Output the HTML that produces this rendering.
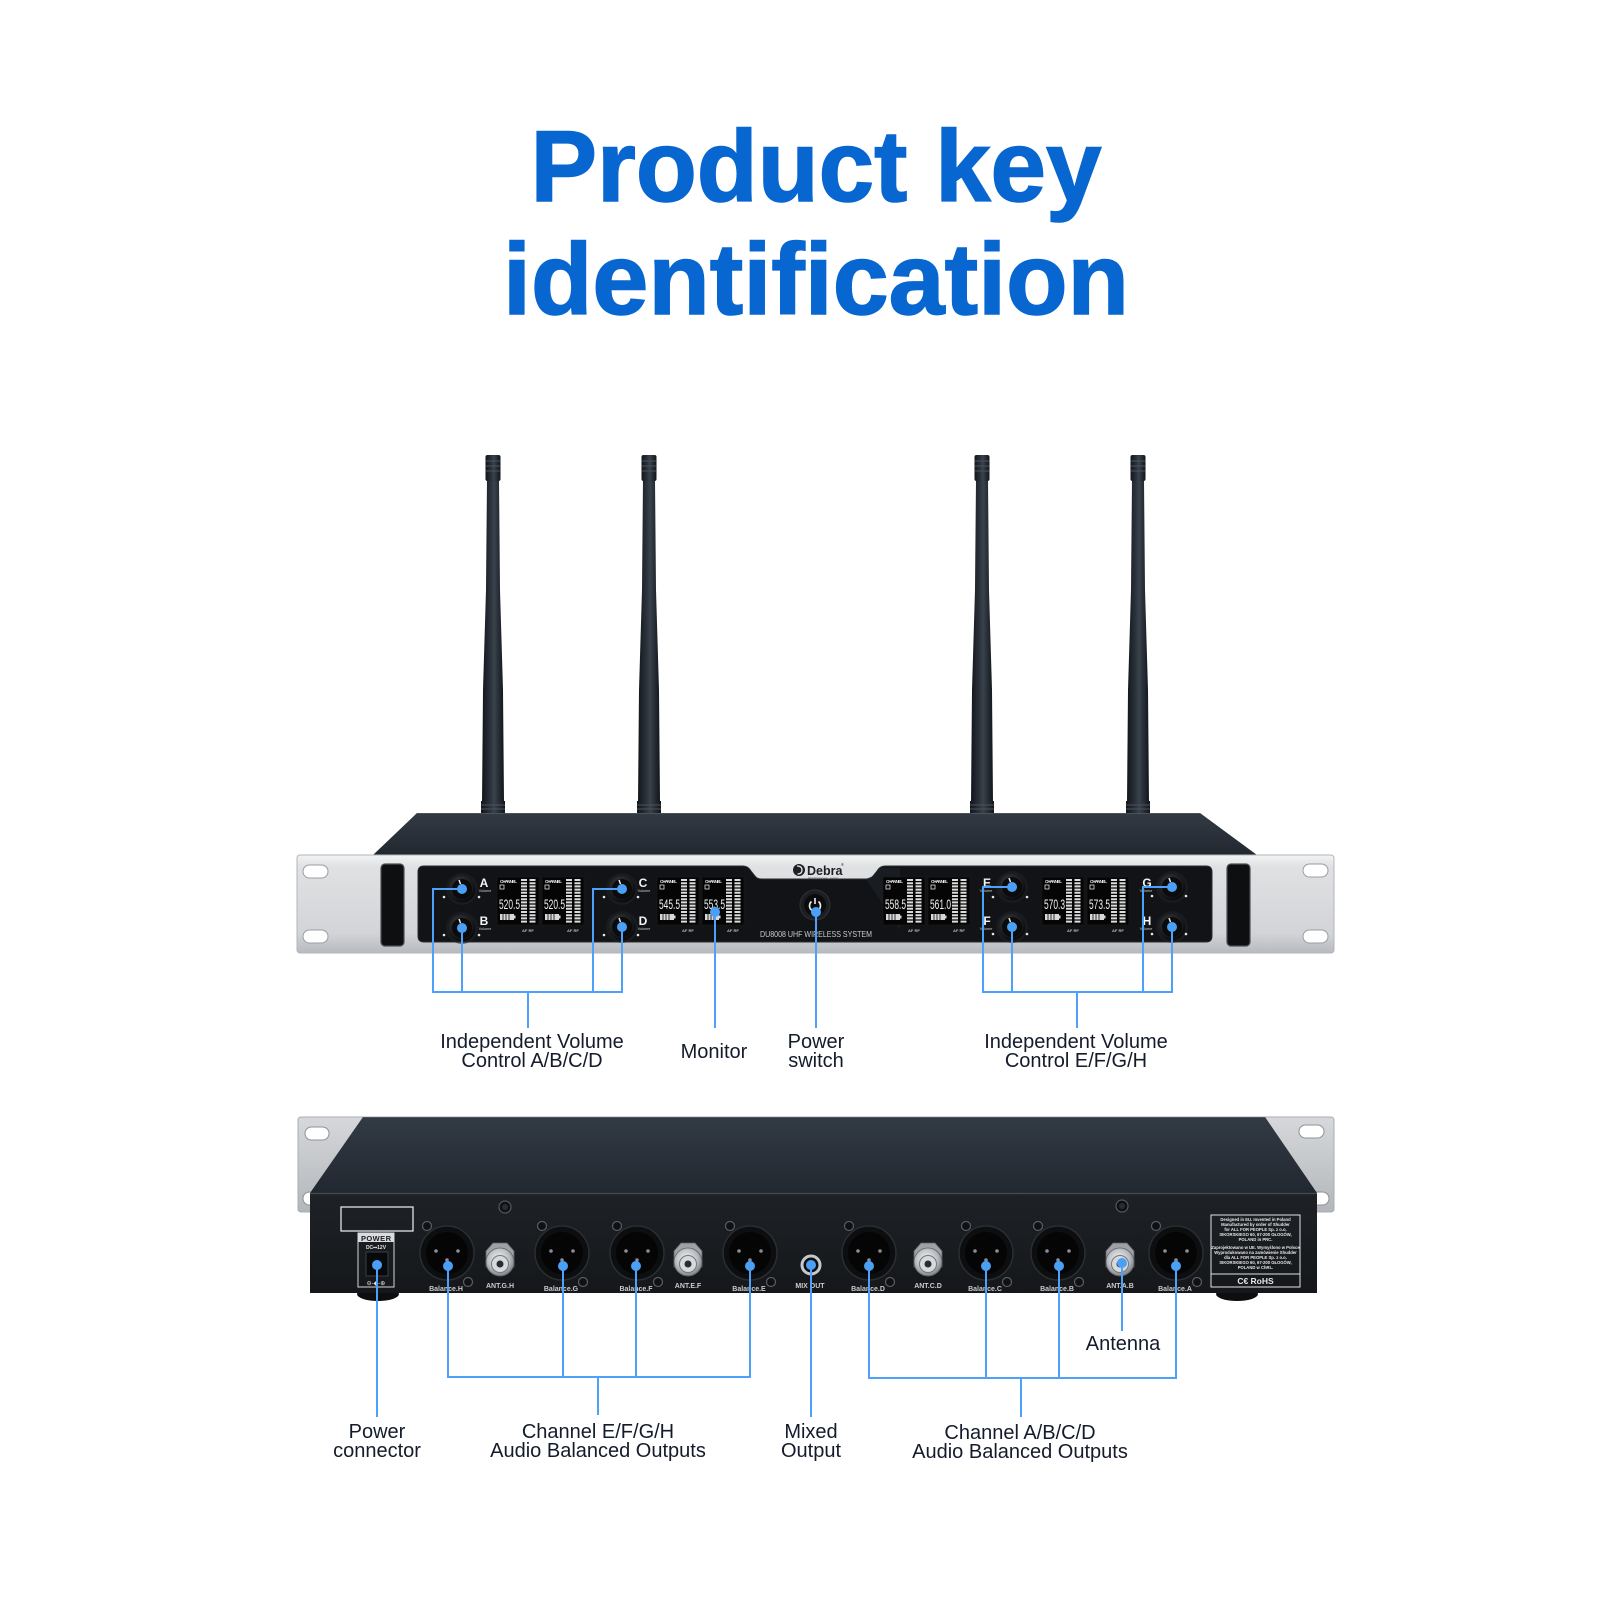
<!DOCTYPE html>
<html><head><meta charset="utf-8"><style>
html,body{margin:0;padding:0;background:#fff;}
svg{display:block;}
text{font-family:"Liberation Sans",Arial,sans-serif;}
</style></head><body>
<svg width="1600" height="1606" viewBox="0 0 1600 1606" xmlns="http://www.w3.org/2000/svg">
<defs>
  <linearGradient id="ant" x1="0" y1="0" x2="1" y2="0">
    <stop offset="0" stop-color="#12161b"/><stop offset="0.4" stop-color="#2c333c"/><stop offset="0.55" stop-color="#3a424c"/><stop offset="1" stop-color="#11151a"/>
  </linearGradient>
  <linearGradient id="topc" x1="0" y1="0" x2="0" y2="1">
    <stop offset="0" stop-color="#323a44"/><stop offset="1" stop-color="#222830"/>
  </linearGradient>
  <linearGradient id="face" x1="0" y1="0" x2="0" y2="1">
    <stop offset="0" stop-color="#f2f3f4"/><stop offset="0.12" stop-color="#dfe1e3"/><stop offset="0.8" stop-color="#d2d4d7"/><stop offset="1" stop-color="#b7babe"/>
  </linearGradient>
  <linearGradient id="ear" x1="0" y1="0" x2="0" y2="1">
    <stop offset="0" stop-color="#d6d8db"/><stop offset="1" stop-color="#b3b6ba"/>
  </linearGradient>
  <linearGradient id="rear" x1="0" y1="0" x2="0" y2="1">
    <stop offset="0" stop-color="#1e2226"/><stop offset="1" stop-color="#15171a"/>
  </linearGradient>
  <radialGradient id="knobg" cx="0.4" cy="0.35" r="0.7">
    <stop offset="0" stop-color="#3a3c40"/><stop offset="0.7" stop-color="#18191b"/><stop offset="1" stop-color="#060607"/>
  </radialGradient>
  <radialGradient id="bncg" cx="0.45" cy="0.4" r="0.65">
    <stop offset="0" stop-color="#f4f4f4"/><stop offset="0.6" stop-color="#b9bcc0"/><stop offset="1" stop-color="#6f7378"/>
  </radialGradient>
  <g id="knob">
    <circle r="16" fill="#202226" opacity="0.6"/>
    <circle r="13.5" fill="url(#knobg)"/>
    <circle r="10" fill="#0b0b0c"/>
    <line x1="-3" y1="-9" x2="-1.5" y2="-5" stroke="#eee" stroke-width="1.5"/>
  </g>
  <g id="lcd">
    <rect x="0" y="0" width="42" height="48" fill="#050505" stroke="#1c1c1c" stroke-width="0.6"/>
    <line x1="27" y1="2" x2="27" y2="46" stroke="#dcdcdc" stroke-width="6" stroke-dasharray="2 1.2"/>
    <line x1="35.5" y1="2" x2="35.5" y2="46" stroke="#dcdcdc" stroke-width="6" stroke-dasharray="2 1.2"/>
    <rect x="3" y="8" width="4" height="4" fill="none" stroke="#ddd" stroke-width="0.8"/>
    <rect x="3" y="37" width="14" height="6" fill="#d8d8d8"/>
    <rect x="17" y="38.5" width="1.5" height="3" fill="#d8d8d8"/>
    <line x1="6" y1="37" x2="6" y2="43" stroke="#050505" stroke-width="0.8"/>
    <line x1="9" y1="37" x2="9" y2="43" stroke="#050505" stroke-width="0.8"/>
    <line x1="12" y1="37" x2="12" y2="43" stroke="#050505" stroke-width="0.8"/>
  </g>
  <g id="xlr">
    <circle r="27" fill="#0d0e10" stroke="#2a2d31" stroke-width="1.5"/>
    <circle r="21" fill="#050506"/>
    <circle cx="-11" cy="-2" r="1.8" fill="#8a8d92"/>
    <circle cx="11" cy="-2" r="1.8" fill="#8a8d92"/>
    <circle cx="0" cy="7" r="1.8" fill="#8a8d92"/>
    <circle cx="-20" cy="-27" r="4.5" fill="#101113" stroke="#5a5d62" stroke-width="1.2"/>
    <circle cx="21" cy="29" r="4.5" fill="#101113" stroke="#5a5d62" stroke-width="1.2"/>
  </g>
  <g id="bnc">
    <polygon points="-14,-10 -7,-18 7,-18 14,-10 14,6 -14,6" fill="#9ea2a7" stroke="#5e6267" stroke-width="0.8"/>
    <circle cx="0" cy="1" r="14" fill="url(#bncg)" stroke="#5e6267" stroke-width="0.8"/>
    <circle cx="0" cy="3" r="8.5" fill="#d7d9dc" stroke="#777" stroke-width="1"/>
    <circle cx="0" cy="3" r="3.5" fill="#2a2c30"/>
  </g>
  <g id="screw">
    <circle r="6" fill="#101113" stroke="#55585d" stroke-width="1.2"/>
    <circle r="3" fill="#2a2c30"/>
  </g>
</defs>

<rect width="1600" height="1606" fill="#ffffff"/>

<!-- TITLE -->
<text x="816" y="201" text-anchor="middle" font-size="101" font-weight="bold" fill="#0866d0" stroke="#0866d0" stroke-width="1.5" textLength="571" lengthAdjust="spacingAndGlyphs">Product key</text>
<text x="816" y="314" text-anchor="middle" font-size="101" font-weight="bold" fill="#0866d0" stroke="#0866d0" stroke-width="1.5" textLength="626" lengthAdjust="spacingAndGlyphs">identification</text>

<!-- ANTENNAS -->
<g>
  <g transform="translate(493,0)">
    <polygon points="-6,480 6,480 7,590 10,690 11,803 -11,803 -10,690 -7,590" fill="url(#ant)"/>
    <rect x="-7.5" y="455" width="15" height="26" rx="2" fill="url(#ant)"/>
    <line x1="-7" y1="461" x2="7" y2="461" stroke="#4a525c"/><line x1="-7" y1="466" x2="7" y2="466" stroke="#4a525c"/><line x1="-7" y1="471" x2="7" y2="471" stroke="#4a525c"/>
    <rect x="-12" y="801" width="24" height="12" fill="url(#ant)"/>
    <line x1="-12" y1="805" x2="12" y2="805" stroke="#4a525c"/><line x1="-12" y1="809" x2="12" y2="809" stroke="#4a525c"/>
  </g>
  <g transform="translate(649,0)">
    <polygon points="-6,480 6,480 7,590 10,690 11,803 -11,803 -10,690 -7,590" fill="url(#ant)"/>
    <rect x="-7.5" y="455" width="15" height="26" rx="2" fill="url(#ant)"/>
    <line x1="-7" y1="461" x2="7" y2="461" stroke="#4a525c"/><line x1="-7" y1="466" x2="7" y2="466" stroke="#4a525c"/><line x1="-7" y1="471" x2="7" y2="471" stroke="#4a525c"/>
    <rect x="-12" y="801" width="24" height="12" fill="url(#ant)"/>
    <line x1="-12" y1="805" x2="12" y2="805" stroke="#4a525c"/><line x1="-12" y1="809" x2="12" y2="809" stroke="#4a525c"/>
  </g>
  <g transform="translate(982,0)">
    <polygon points="-6,480 6,480 7,590 10,690 11,803 -11,803 -10,690 -7,590" fill="url(#ant)"/>
    <rect x="-7.5" y="455" width="15" height="26" rx="2" fill="url(#ant)"/>
    <line x1="-7" y1="461" x2="7" y2="461" stroke="#4a525c"/><line x1="-7" y1="466" x2="7" y2="466" stroke="#4a525c"/><line x1="-7" y1="471" x2="7" y2="471" stroke="#4a525c"/>
    <rect x="-12" y="801" width="24" height="12" fill="url(#ant)"/>
    <line x1="-12" y1="805" x2="12" y2="805" stroke="#4a525c"/><line x1="-12" y1="809" x2="12" y2="809" stroke="#4a525c"/>
  </g>
  <g transform="translate(1138,0)">
    <polygon points="-6,480 6,480 7,590 10,690 11,803 -11,803 -10,690 -7,590" fill="url(#ant)"/>
    <rect x="-7.5" y="455" width="15" height="26" rx="2" fill="url(#ant)"/>
    <line x1="-7" y1="461" x2="7" y2="461" stroke="#4a525c"/><line x1="-7" y1="466" x2="7" y2="466" stroke="#4a525c"/><line x1="-7" y1="471" x2="7" y2="471" stroke="#4a525c"/>
    <rect x="-12" y="801" width="24" height="12" fill="url(#ant)"/>
    <line x1="-12" y1="805" x2="12" y2="805" stroke="#4a525c"/><line x1="-12" y1="809" x2="12" y2="809" stroke="#4a525c"/>
  </g>
</g>

<!-- FRONT UNIT -->
<polygon points="417,813 1200,813 1257,855 373,855" fill="url(#topc)"/>
<line x1="417" y1="813.5" x2="1200" y2="813.5" stroke="#4a525c" stroke-width="1"/>
<rect x="297" y="855" width="1037" height="98" rx="3" fill="url(#face)" stroke="#b2b5b9" stroke-width="1"/>
<!-- ear holes -->
<rect x="303" y="865" width="25" height="13" rx="6.5" fill="#fff" stroke="#9a9da1" stroke-width="1"/>
<rect x="303" y="930" width="25" height="13" rx="6.5" fill="#fff" stroke="#9a9da1" stroke-width="1"/>
<rect x="1303" y="864" width="25" height="13" rx="6.5" fill="#fff" stroke="#9a9da1" stroke-width="1"/>
<rect x="1303" y="930" width="25" height="13" rx="6.5" fill="#fff" stroke="#9a9da1" stroke-width="1"/>
<!-- handles -->
<rect x="381" y="864" width="23" height="82" rx="4" fill="#0e0f11" stroke="#4c4f54" stroke-width="1.2"/>
<rect x="1227" y="864" width="23" height="82" rx="4" fill="#0e0f11" stroke="#4c4f54" stroke-width="1.2"/>
<!-- display panel -->
<path d="M424 866 H743 Q748 866 751 871 L755 876 Q757 879 762 879 H866 Q871 879 873 876 L877 871 Q880 866 885 866 H1206 Q1212 866 1212 872 V936 Q1212 942 1206 942 H424 Q418 942 418 936 V872 Q418 866 424 866 Z" fill="#111316" stroke="#2a2d31" stroke-width="1"/>
<polygon points="866,879 873,876 880,868 900,868 900,930" fill="#1c1f23" opacity="0.8"/>
<!-- LCDs -->
<use href="#lcd" x="497" y="877"/><use href="#lcd" x="542" y="877"/>
<use href="#lcd" x="657" y="877"/><use href="#lcd" x="702" y="877"/>
<use href="#lcd" x="883" y="877"/><use href="#lcd" x="928" y="877"/>
<use href="#lcd" x="1042" y="877"/><use href="#lcd" x="1087" y="877"/>
<g fill="#e8e8e8" font-size="4.5" font-weight="bold">
  <text x="500" y="883" textLength="17">CHANNEL</text><text x="545" y="883" textLength="17">CHANNEL</text>
  <text x="660" y="883" textLength="17">CHANNEL</text><text x="705" y="883" textLength="17">CHANNEL</text>
  <text x="886" y="883" textLength="17">CHANNEL</text><text x="931" y="883" textLength="17">CHANNEL</text>
  <text x="1045" y="883" textLength="17">CHANNEL</text><text x="1090" y="883" textLength="17">CHANNEL</text>
</g>
<g fill="#f2f2f2" font-size="14" font-family="'Liberation Sans Narrow','Liberation Sans',sans-serif">
  <text x="499" y="909" textLength="21" lengthAdjust="spacingAndGlyphs">520.5</text>
  <text x="544" y="909" textLength="21" lengthAdjust="spacingAndGlyphs">520.5</text>
  <text x="659" y="909" textLength="21" lengthAdjust="spacingAndGlyphs">545.5</text>
  <text x="704" y="909" textLength="21" lengthAdjust="spacingAndGlyphs">553.5</text>
  <text x="885" y="909" textLength="21" lengthAdjust="spacingAndGlyphs">558.5</text>
  <text x="930" y="909" textLength="21" lengthAdjust="spacingAndGlyphs">561.0</text>
  <text x="1044" y="909" textLength="21" lengthAdjust="spacingAndGlyphs">570.3</text>
  <text x="1089" y="909" textLength="21" lengthAdjust="spacingAndGlyphs">573.5</text>
</g>
<g fill="#bbb" font-size="4" font-weight="bold">
  <text x="522" y="932">AF RF</text><text x="567" y="932">AF RF</text>
  <text x="682" y="932">AF RF</text><text x="727" y="932">AF RF</text>
  <text x="908" y="932">AF RF</text><text x="953" y="932">AF RF</text>
  <text x="1067" y="932">AF RF</text><text x="1112" y="932">AF RF</text>
</g>
<!-- knobs -->
<use href="#knob" x="462" y="889"/><use href="#knob" x="462" y="928"/>
<use href="#knob" x="622" y="889"/><use href="#knob" x="622" y="927"/>
<use href="#knob" x="1012" y="887"/><use href="#knob" x="1012" y="927"/>
<use href="#knob" x="1172" y="887"/><use href="#knob" x="1172" y="927"/>
<g fill="#f4f4f4" font-size="12" font-weight="bold" text-anchor="middle">
  <text x="484" y="887">A</text><text x="484" y="925">B</text>
  <text x="643" y="887">C</text><text x="643" y="925">D</text>
  <text x="987" y="887">E</text><text x="987" y="925">F</text>
  <text x="1147" y="887">G</text><text x="1147" y="925">H</text>
</g>
<g fill="#cfcfcf" font-size="3.8" text-anchor="middle">
  <text x="485" y="892">Volume</text><text x="485" y="930">Volume</text>
  <text x="644" y="892">Volume</text><text x="644" y="930">Volume</text>
  <text x="986" y="892">Volume</text><text x="986" y="930">Volume</text>
  <text x="1146" y="892">Volume</text><text x="1146" y="930">Volume</text>
</g>
<g fill="#e6e6e6">
  <circle cx="444" cy="897" r="1.3"/><circle cx="479" cy="897" r="1.3"/><circle cx="444" cy="935" r="1.3"/><circle cx="479" cy="935" r="1.3"/>
  <circle cx="604" cy="897" r="1.3"/><circle cx="638" cy="897" r="1.3"/><circle cx="604" cy="935" r="1.3"/><circle cx="638" cy="935" r="1.3"/>
  <circle cx="993" cy="897" r="1.3"/><circle cx="1027" cy="897" r="1.3"/><circle cx="993" cy="934" r="1.3"/><circle cx="1027" cy="934" r="1.3"/>
  <circle cx="1152" cy="896" r="1.3"/><circle cx="1186" cy="896" r="1.3"/><circle cx="1152" cy="934" r="1.3"/><circle cx="1186" cy="934" r="1.3"/>
</g>
<!-- logo -->
<circle cx="799" cy="870" r="6" fill="#1d1f22"/>
<path d="M797 866 Q802 866 802 870 Q802 874 797.5 874" fill="none" stroke="#e8e8e8" stroke-width="1.3"/>
<text x="807" y="875" font-size="12.5" font-weight="bold" fill="#1d1f22">Debra</text>
<text x="841" y="866" font-size="4" fill="#1d1f22">®</text>
<text x="808" y="879.5" font-size="2.6" fill="#333" textLength="30">PROFESSIONAL AUDIO</text>
<!-- power button -->
<circle cx="815" cy="905" r="15" fill="#1c1e21" stroke="#2f3236" stroke-width="1"/>
<circle cx="815" cy="905" r="11" fill="#0c0c0d"/>
<path d="M811.5 901.5 A5.5 5.5 0 1 0 818.5 901.5" fill="none" stroke="#f0f0f0" stroke-width="1.6"/>
<line x1="815" y1="898" x2="815" y2="904" stroke="#f0f0f0" stroke-width="1.6"/>
<text x="760" y="937" font-size="8.5" fill="#c9cbce" textLength="112" lengthAdjust="spacingAndGlyphs">DU8008 UHF WIRELESS SYSTEM</text>

<!-- FRONT CONNECTORS -->
<g stroke="#4ea1fa" stroke-width="2" fill="none">
  <polyline points="462,889 433,889 433,992"/>
  <line x1="462" y1="928" x2="462" y2="992"/>
  <polyline points="622,889 593,889 593,992"/>
  <line x1="622" y1="927" x2="622" y2="992"/>
  <line x1="432" y1="992" x2="623" y2="992"/>
  <line x1="528" y1="992" x2="528" y2="1028"/>
  <line x1="715" y1="912" x2="715" y2="1028"/>
  <line x1="816" y1="912" x2="816" y2="1028"/>
  <polyline points="1012,887 983,887 983,992"/>
  <line x1="1012" y1="927" x2="1012" y2="992"/>
  <polyline points="1172,887 1143,887 1143,992"/>
  <line x1="1172" y1="927" x2="1172" y2="992"/>
  <line x1="982" y1="992" x2="1173" y2="992"/>
  <line x1="1077" y1="992" x2="1077" y2="1028"/>
</g>
<g fill="#4a9ff7">
  <circle cx="462" cy="889" r="5"/><circle cx="462" cy="928" r="5"/>
  <circle cx="622" cy="889" r="5"/><circle cx="622" cy="927" r="5"/>
  <circle cx="715" cy="912" r="5"/><circle cx="816" cy="912" r="5"/>
  <circle cx="1012" cy="887" r="5"/><circle cx="1012" cy="927" r="5"/>
  <circle cx="1172" cy="887" r="5"/><circle cx="1172" cy="927" r="5"/>
</g>

<!-- FRONT LABELS -->
<g fill="#141b2b" font-size="20" text-anchor="middle">
  <text x="532" y="1048">Independent Volume</text>
  <text x="532" y="1067">Control A/B/C/D</text>
  <text x="714" y="1058">Monitor</text>
  <text x="816" y="1048">Power</text>
  <text x="816" y="1067">switch</text>
  <text x="1076" y="1048">Independent Volume</text>
  <text x="1076" y="1067">Control E/F/G/H</text>
</g>

<!-- BACK UNIT -->
<rect x="298" y="1117" width="1036" height="95" rx="3" fill="url(#ear)" stroke="#a9acb0" stroke-width="1"/>
<rect x="305" y="1127" width="24" height="13" rx="6.5" fill="#fff" stroke="#8f9296" stroke-width="1"/>
<rect x="303" y="1192" width="24" height="13" rx="6.5" fill="#fff" stroke="#8f9296" stroke-width="1"/>
<rect x="1299" y="1125" width="25" height="13" rx="6.5" fill="#fff" stroke="#8f9296" stroke-width="1"/>
<rect x="1305" y="1192" width="24" height="13" rx="6.5" fill="#fff" stroke="#8f9296" stroke-width="1"/>
<polygon points="363,1117 1265,1117 1317,1193 310,1193" fill="url(#topc)"/>
<line x1="363" y1="1117.5" x2="1265" y2="1117.5" stroke="#4a525c" stroke-width="1"/>
<!-- feet -->
<ellipse cx="378" cy="1294" rx="21" ry="7" fill="#0d0e10"/>
<ellipse cx="1237" cy="1294" rx="21" ry="7" fill="#0d0e10"/>
<rect x="310" y="1193" width="1007" height="100" fill="url(#rear)"/>
<line x1="310" y1="1193.5" x2="1317" y2="1193.5" stroke="#444b53" stroke-width="1.2"/>
<!-- top screws -->
<use href="#screw" x="505" y="1207"/>
<use href="#screw" x="1122" y="1206"/>
<!-- label outline & power box -->
<rect x="341" y="1207" width="72" height="24" fill="none" stroke="#e2e4e6" stroke-width="1.3"/>
<rect x="358" y="1233" width="36" height="54" fill="none" stroke="#d4d6d9" stroke-width="1"/>
<rect x="358" y="1233" width="36" height="9" fill="#dadcdf"/>
<text x="376" y="1241" text-anchor="middle" font-size="7.5" font-weight="bold" fill="#1a1c1f" textLength="30">POWER</text>
<text x="376" y="1249" text-anchor="middle" font-size="5" font-weight="bold" fill="#e2e2e2">DC⎓12V</text>
<rect x="366" y="1252" width="22" height="24" fill="#08090a" stroke="#3a3d41" stroke-width="1"/>
<circle cx="377" cy="1265" r="4" fill="#222"/>
<text x="376" y="1285" text-anchor="middle" font-size="6" fill="#e2e2e2">⊖-◆-⊕</text>
<!-- XLRs -->
<use href="#xlr" x="447" y="1253"/><use href="#xlr" x="562" y="1253"/>
<use href="#xlr" x="637" y="1253"/><use href="#xlr" x="750" y="1253"/>
<use href="#xlr" x="869" y="1253"/><use href="#xlr" x="986" y="1253"/>
<use href="#xlr" x="1058" y="1253"/><use href="#xlr" x="1176" y="1253"/>
<!-- BNCs -->
<use href="#bnc" x="500" y="1261"/><use href="#bnc" x="688" y="1261"/>
<use href="#bnc" x="928" y="1261"/><use href="#bnc" x="1120" y="1261"/>
<!-- mix out -->
<circle cx="811" cy="1265" r="9" fill="#0d0e10" stroke="#c5c8cc" stroke-width="3"/>
<g fill="#c9ccd0" font-size="7" font-weight="bold" text-anchor="middle">
  <text x="446" y="1291">Balance.H</text><text x="561" y="1291">Balance.G</text>
  <text x="636" y="1291">Balance.F</text><text x="749" y="1291">Balance.E</text>
  <text x="868" y="1291">Balance.D</text><text x="985" y="1291">Balance.C</text>
  <text x="1057" y="1291">Balance.B</text><text x="1175" y="1291">Balance.A</text>
  <text x="500" y="1288">ANT.G.H</text><text x="688" y="1288">ANT.E.F</text>
  <text x="928" y="1288">ANT.C.D</text><text x="1120" y="1288">ANT.A.B</text>
  <text x="810" y="1288">MIX OUT</text>
</g>
<!-- compliance label -->
<rect x="1211" y="1215" width="89" height="72" fill="none" stroke="#e2e4e6" stroke-width="1"/>
<line x1="1211" y1="1274" x2="1300" y2="1274" stroke="#e2e4e6" stroke-width="1"/>
<g fill="#e6e6e6" font-size="4.2" font-weight="bold" text-anchor="middle">
  <text x="1255.5" y="1221">Designed in EU. Invented in Poland</text>
  <text x="1255.5" y="1226">Manufactured by order of Shudder</text>
  <text x="1255.5" y="1231">for ALL FOR PEOPLE Sp. z o.o.</text>
  <text x="1255.5" y="1236">SIKORSKIEGO 60, 67-200 GŁOGÓW,</text>
  <text x="1255.5" y="1241">POLAND in PRC.</text>
  <text x="1255.5" y="1249">Zaprojektowano w UE. Wymyślono w Polsce</text>
  <text x="1255.5" y="1254">Wyprodukowano na zamówienie Shudder</text>
  <text x="1255.5" y="1259">dla ALL FOR PEOPLE Sp. z o.o.</text>
  <text x="1255.5" y="1264">SIKORSKIEGO 60, 67-200 GŁOGÓW,</text>
  <text x="1255.5" y="1269">POLAND w ChRL.</text>
</g>
<text x="1255.5" y="1284" text-anchor="middle" font-size="8.5" font-weight="bold" fill="#e6e6e6">C€  RoHS</text>

<!-- BACK CONNECTORS -->
<g stroke="#4ea1fa" stroke-width="2" fill="none">
  <line x1="377" y1="1265" x2="377" y2="1417"/>
  <line x1="448" y1="1266" x2="448" y2="1377"/>
  <line x1="563" y1="1266" x2="563" y2="1377"/>
  <line x1="636" y1="1266" x2="636" y2="1377"/>
  <line x1="750" y1="1266" x2="750" y2="1377"/>
  <line x1="447" y1="1377" x2="751" y2="1377"/>
  <line x1="598" y1="1377" x2="598" y2="1415"/>
  <line x1="811" y1="1265" x2="811" y2="1417"/>
  <line x1="869" y1="1266" x2="869" y2="1378"/>
  <line x1="986" y1="1266" x2="986" y2="1378"/>
  <line x1="1059" y1="1266" x2="1059" y2="1378"/>
  <line x1="1176" y1="1266" x2="1176" y2="1378"/>
  <line x1="868" y1="1378" x2="1177" y2="1378"/>
  <line x1="1021" y1="1378" x2="1021" y2="1417"/>
  <line x1="1122" y1="1263" x2="1122" y2="1331"/>
</g>
<g fill="#4a9ff7">
  <circle cx="377" cy="1265" r="5"/>
  <circle cx="448" cy="1266" r="5"/><circle cx="563" cy="1266" r="5"/>
  <circle cx="636" cy="1266" r="5"/><circle cx="750" cy="1266" r="5"/>
  <circle cx="811" cy="1265" r="5"/>
  <circle cx="869" cy="1266" r="5"/><circle cx="986" cy="1266" r="5"/>
  <circle cx="1059" cy="1266" r="5"/><circle cx="1176" cy="1266" r="5"/>
  <circle cx="1122" cy="1263" r="5"/>
</g>

<!-- BACK LABELS -->
<g fill="#141b2b" font-size="20" text-anchor="middle">
  <text x="377" y="1438">Power</text>
  <text x="377" y="1457">connector</text>
  <text x="598" y="1438">Channel E/F/G/H</text>
  <text x="598" y="1457">Audio Balanced Outputs</text>
  <text x="811" y="1438">Mixed</text>
  <text x="811" y="1457">Output</text>
  <text x="1020" y="1439">Channel A/B/C/D</text>
  <text x="1020" y="1458">Audio Balanced Outputs</text>
  <text x="1123" y="1350">Antenna</text>
</g>
</svg>
</body></html>
